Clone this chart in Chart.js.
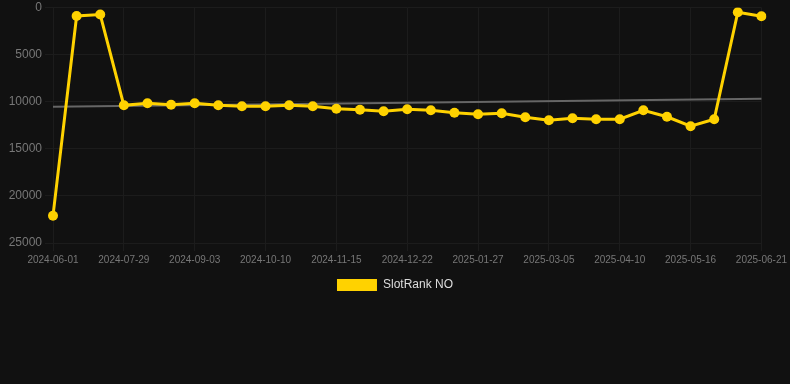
<!DOCTYPE html>
<html lang="en">
<head>
<meta charset="UTF-8" />
<title>SlotRank NO</title>
<style>
  body {
    margin: 0;
    padding: 0;
    background: #111111;
    font-family: 'Liberation Sans', Arial, sans-serif;
  }
  #chart-container {
    position: relative;
    width: 790px;
    height: 301px;
  }
</style>
</head>
<body>
<div id="chart-container">
  <canvas id="rankChart"></canvas>
</div>

<script src="https://cdn.jsdelivr.net/npm/chart.js"></script>
<script>
// dates (every third one shown as a tick)
const labels = [
  '2024-06-01', '2024-06-20', '2024-07-10', '2024-07-29', '2024-08-10', '2024-08-22',
  '2024-09-03', '2024-09-15', '2024-09-28', '2024-10-10', '2024-10-22', '2024-11-03',
  '2024-11-15', '2024-11-27', '2024-12-10', '2024-12-22', '2025-01-03', '2025-01-15',
  '2025-01-27', '2025-02-08', '2025-02-21', '2025-03-05', '2025-03-17', '2025-03-29',
  '2025-04-10', '2025-04-22', '2025-05-04', '2025-05-16', '2025-05-28', '2025-06-09',
  '2025-06-21'
];

// rank values
const rankValues = [
  22100, 900, 750, 10380, 10170, 10330, 10170, 10380, 10490, 10490, 10380, 10490,
  10750, 10860, 11020, 10800, 10910, 11180, 11330, 11230, 11650, 11970, 11760, 11860,
  11860, 10910, 11600, 12600, 11860, 500, 920
];

// trend line: only the two ends are known
const trendValues = labels.map(() => null);
trendValues[0] = 10540;
trendValues[labels.length - 1] = 9690;

const yTicks = [0, 5000, 10000, 15000, 20000, 25000];

const fontFamily = "'Liberation Sans', Arial, sans-serif";
const ctx = document.getElementById('rankChart').getContext('2d');

new Chart(ctx, {
  type: 'line',
  data: {
    labels: labels,
    datasets: [
      {
        label: 'SlotRank NO',
        data: rankValues,
        borderColor: '#ffd200',
        backgroundColor: '#ffd200',
        borderWidth: 3,
        pointRadius: 5,
        pointBorderWidth: 0,
        pointBackgroundColor: '#ffd200',
        tension: 0,
        order: 1
      },
      {
        label: 'trend',
        data: trendValues,
        borderColor: '#666666',
        borderWidth: 2,
        pointRadius: 0,
        spanGaps: true,
        order: 2
      }
    ]
  },
  options: {
    responsive: true,
    maintainAspectRatio: false,
    animation: false,
    layout: { padding: 0 },
    plugins: {
      legend: {
        position: 'bottom',
        labels: {
          color: '#dddddd',
          boxWidth: 40,
          boxHeight: 12,
          font: { size: 12, family: fontFamily },
          filter: item => item.text !== 'trend',
          generateLabels: chart => Chart.defaults.plugins.legend.labels.generateLabels(chart)
            .map(item => Object.assign(item, { lineWidth: 0 }))
        }
      },
      tooltip: { enabled: false }
    },
    scales: {
      x: {
        grid: { color: '#1c1c1c' },
        border: { color: '#1c1c1c' },
        ticks: {
          color: '#777777',
          maxRotation: 0,
          autoSkip: false,
          font: { size: 10, family: fontFamily },
          callback: function (v, i) { return i % 3 === 0 ? labels[i] : null; }
        }
      },
      y: {
        reverse: true,
        min: 0,
        max: 25000,
        grid: { color: '#1c1c1c' },
        border: { color: '#1c1c1c' },
        afterBuildTicks: axis => { axis.ticks = yTicks.map(v => ({ value: v })); },
        afterFit: axis => { axis.width = 53; },
        ticks: {
          color: '#777777',
          font: { size: 12, family: fontFamily, lineHeight: 0.75 },
          callback: v => String(v)
        }
      }
    }
  }
});
</script>
</body>
</html>
